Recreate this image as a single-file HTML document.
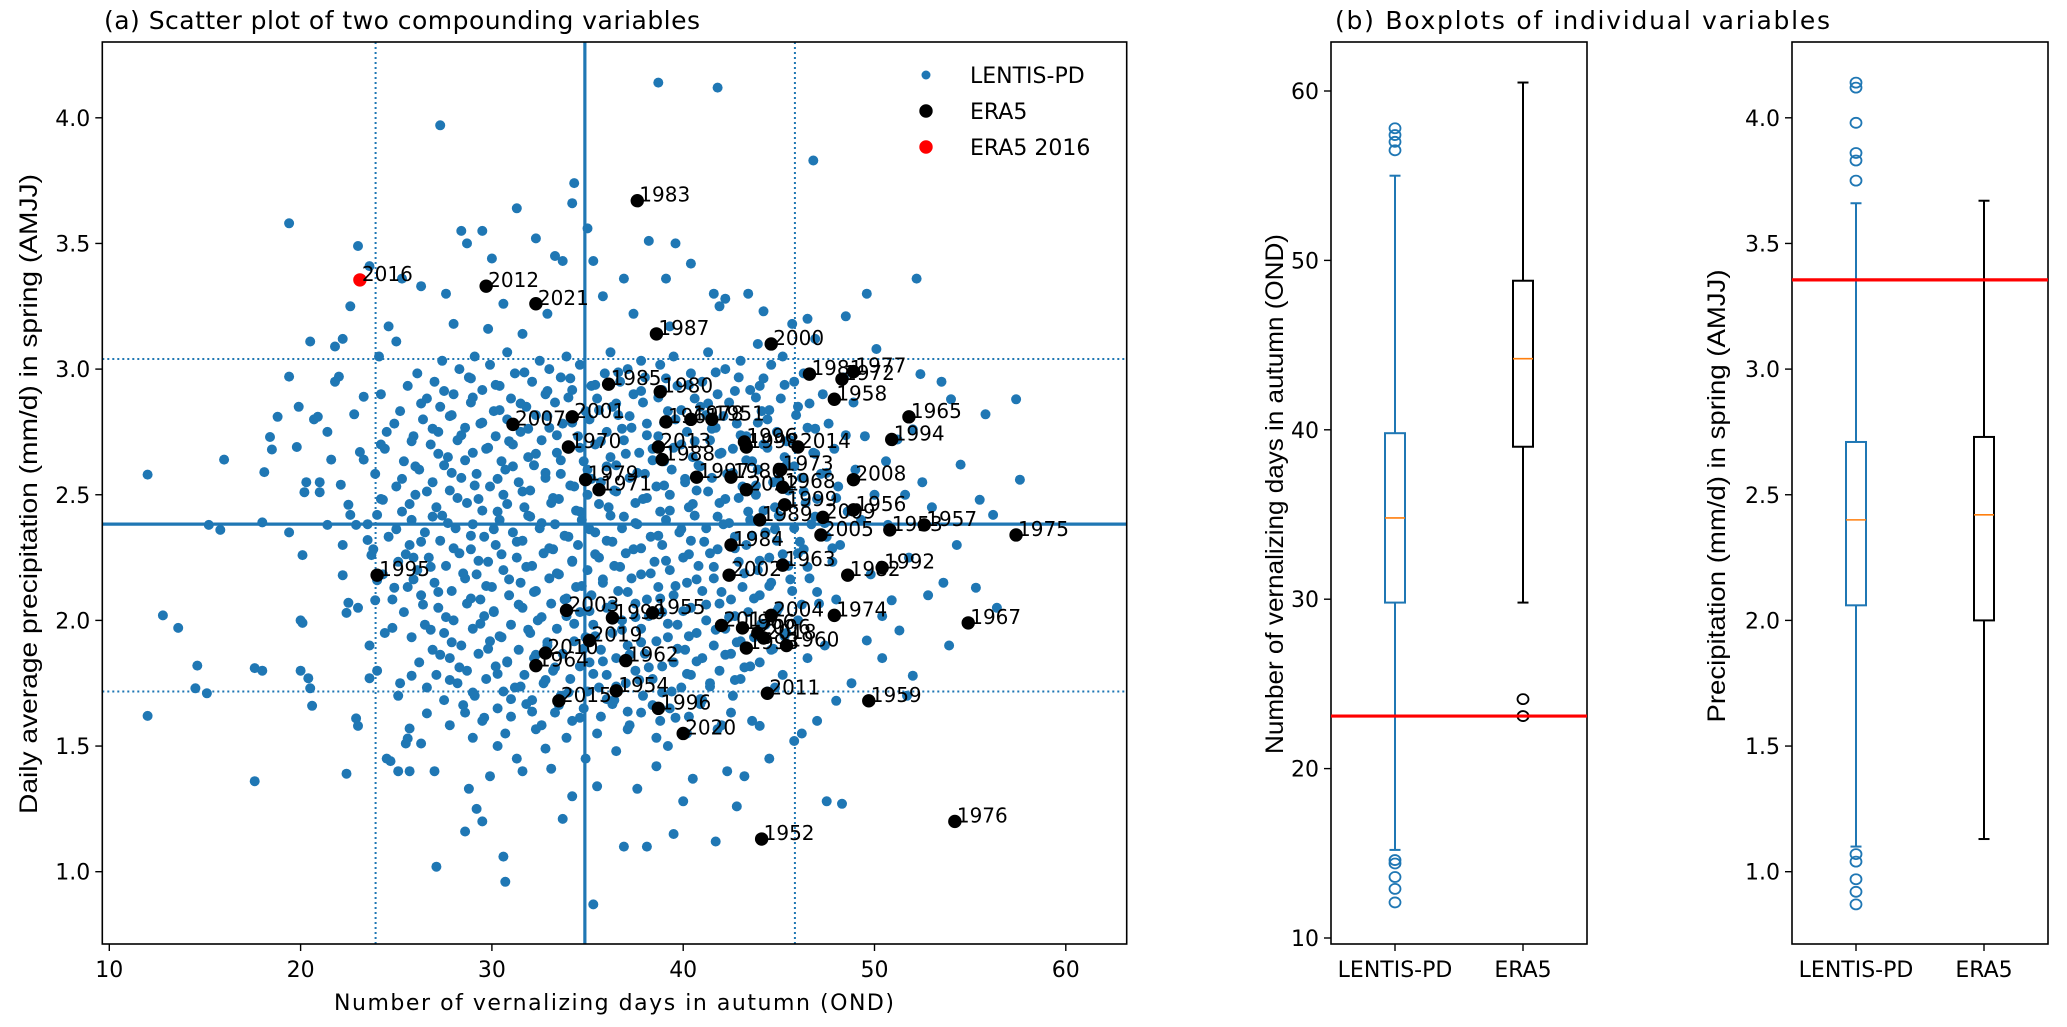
<!DOCTYPE html>
<html><head><meta charset="utf-8"><style>
html,body{margin:0;padding:0;background:#fff;}
svg{display:block;font-family:"DejaVu Sans","Liberation Sans",sans-serif;}
</style></head><body>
<svg id="fig" width="2067" height="1027" viewBox="0 0 2067 1027" xmlns="http://www.w3.org/2000/svg"></svg>
<script>
// ---------- data ----------
const scatterXTicks = [10,20,30,40,50,60];
const scatterYTicks = [1.0,1.5,2.0,2.5,3.0,3.5,4.0];
const daysTicks = [10,20,30,40,50,60];
const precipTicks = [1.0,1.5,2.0,2.5,3.0,3.5,4.0];
const boxCategories = ["LENTIS-PD","ERA5"];
const medianDays = 34.86, medianPrecip = 2.383;
const q10Days = 23.92, q90Days = 45.84, q10Precip = 1.717, q90Precip = 3.04;
const era2016Days = 23.1, era2016Precip = 3.355;
const eraYears = ["1983","2012","2021","1987","2000","1981","1977","1972","1958","1985","1980","1965","2001","2007","1951","1978","1961","1994","2014","1996","1998","1970","2013","1988","1997","1986","1973","2008","1979","1971","2022","1968","1999","1956","1989","2009","2005","1953","1957","1975","1984","1963","2002","1992","1982","1995","2003","1990","1955","2017","2004","1974","1960","1993","2006","2018","1966","2019","2010","1964","1962","1954","2015","2011","1959","1996","2020","1952","1976","1967"];
const eraDays = [37.6,29.7,32.3,38.6,44.6,46.6,48.9,48.3,47.9,36.1,38.8,51.8,34.2,31.1,41.5,40.4,39.1,50.9,46.0,43.2,43.3,34.0,38.7,38.9,40.7,42.5,45.1,48.9,34.9,35.6,43.3,45.2,45.3,48.9,44.0,47.3,47.2,50.8,52.6,57.4,42.5,45.2,42.4,50.4,48.6,24.0,33.9,36.3,38.4,42.0,44.6,47.9,45.4,43.3,43.9,44.2,43.1,35.1,32.8,32.3,37.0,36.5,33.5,44.4,49.7,38.7,40.0,44.1,54.2,54.9];
const eraPrecip = [3.67,3.33,3.26,3.14,3.10,2.98,2.99,2.96,2.88,2.94,2.91,2.81,2.81,2.78,2.80,2.80,2.79,2.72,2.69,2.71,2.69,2.69,2.69,2.64,2.57,2.57,2.60,2.56,2.56,2.52,2.52,2.53,2.46,2.44,2.40,2.41,2.34,2.36,2.38,2.34,2.30,2.22,2.18,2.21,2.18,2.18,2.04,2.01,2.03,1.98,2.02,2.02,1.90,1.89,1.95,1.93,1.97,1.92,1.87,1.82,1.84,1.72,1.68,1.71,1.68,1.65,1.55,1.13,1.20,1.99];
const lentisPoints = [
[12.0,2.58],[12.8,2.02],[13.6,1.97],[12.0,1.62],[14.6,1.82],[14.5,1.73],[15.1,1.71],[15.2,2.38],[15.8,2.36],[16.0,2.64],[17.6,1.36],[17.6,1.81],[18.0,1.80],[18.0,2.39],[18.1,2.59],[18.4,2.73],[18.8,2.81],[18.5,2.68],[19.4,3.58],[19.4,2.97],[19.4,2.35],[19.8,2.69],[19.9,2.85],[20.0,2.00],[20.0,1.80],[20.1,1.99],[20.1,2.26],[20.2,2.51],[20.3,2.55],[20.4,1.77],[20.5,1.73],[20.6,1.66],[20.5,3.11],[20.7,2.80],[20.9,2.81],[21.0,2.55],[21.0,2.51],[21.4,2.38],[21.4,2.75],[21.6,2.64],[21.8,2.95],[22.0,2.97],[21.8,3.09],[22.1,2.54],[22.2,2.30],[22.2,2.18],[22.4,2.03],[22.5,2.07],[22.4,1.39],[22.5,2.46],[22.6,3.25],[22.8,2.82],[22.9,1.61],[23.0,1.58],[23.0,3.49],[23.1,2.67],[22.9,2.38],[23.3,2.89],[23.3,2.64],[23.5,2.32],[23.6,1.90],[23.6,1.77],[23.7,2.26],[23.6,3.41],[23.9,2.08],[24.0,1.80],[24.0,2.42],[24.2,2.90],[24.1,3.05],[24.2,2.70],[24.3,2.48],[24.5,2.75],[24.7,1.44],[24.8,1.97],[24.9,2.13],[25.0,3.11],[25.1,1.70],[25.1,1.40],[25.3,3.36],[25.5,1.51],[25.6,1.53],[25.7,1.57],[25.8,1.78],[25.9,2.25],
[27.3,3.97],[38.7,4.14],[41.8,4.12],[46.8,3.83],[34.3,3.74],[34.2,3.66],[31.3,3.64],[28.4,3.55],[29.5,3.55],[28.7,3.50],[30.0,3.44],[32.3,3.52],[33.3,3.45],[33.7,3.43],[35.3,3.43],[36.9,3.36],[35.0,3.56],[38.2,3.51],[39.6,3.50],[40.4,3.42],[39.1,3.36],[41.6,3.30],[43.4,3.30],[42.2,3.28],[46.5,3.20],[45.7,3.18],[44.2,3.23],[48.5,3.21],[52.2,3.36],[49.6,3.30],[41.9,3.25],[26.3,3.33],[27.6,3.30],[30.6,3.26],[24.6,3.17],[22.2,3.12],[29.8,3.16],[32.9,3.22],[35.8,3.29],[37.4,3.22],[31.6,3.14],[28.0,3.18],[39.3,3.17],[43.9,3.10],[46.9,3.12],[50.1,3.08],
[52.4,2.98],[53.5,2.95],[54.0,2.88],[57.4,2.88],[55.8,2.82],[52.0,2.76],[51.2,2.72],[54.5,2.62],[57.6,2.56],[52.5,2.55],[55.5,2.48],[51.6,2.50],[53.0,2.45],[56.2,2.42],[50.7,2.38],[54.3,2.30],[51.8,2.25],[53.6,2.15],[52.8,2.10],[55.3,2.13],[56.4,2.05],[50.9,2.08],[51.3,1.96],[53.9,1.90],[49.6,1.92],[52.0,1.78],[51.7,1.70],[50.4,1.85],[48.8,1.75],[47.0,1.60],[48.0,1.68],[46.2,1.55],[48.3,1.27],[47.5,1.28],[45.8,1.52],[44.5,1.45],[43.2,1.38],[42.8,1.26],[44.0,1.58],
[36.5,1.48],[38.6,1.42],[40.5,1.37],[41.7,1.12],[39.5,1.15],[38.1,1.10],[36.9,1.10],[35.5,1.34],[34.2,1.30],[33.7,1.21],[32.8,1.49],[31.6,1.40],[30.6,1.06],[30.7,0.96],[35.3,0.87],[29.9,1.38],[29.5,1.20],[28.8,1.33],[28.6,1.16],[29.2,1.25],[27.1,1.02],[27.0,1.40],[26.3,1.51],[25.7,1.40],[24.5,1.45],[30.3,1.50],[31.3,1.45],[33.1,1.41],[34.9,1.45],[37.6,1.33],[40.0,1.28],[42.3,1.40],[39.2,1.50],[26.6,1.63],[25.2,1.75],[24.4,1.95],[24.0,2.16],[23.0,2.05],[22.6,2.42]
];
const coreLevels = [3.05,3.00,2.95,2.90,2.85,2.80,2.75,2.70,2.65,2.60,2.55,2.50,2.45,2.40,2.35,2.30,2.25,2.20,2.15,2.10,2.05,2.00,1.95,1.90,1.85,1.80,1.75,1.70,1.65,1.60,1.55];
const coreDays = [
[27.4,29.1,30.8,32.5,33.9,36.2,37.8,39.5,41.3,43.0,45.2],
[26.1,28.3,29.9,31.2,33.0,34.6,35.9,37.1,38.8,40.4,42.2,44.6,46.3],
[25.6,27.0,28.8,30.4,32.1,33.6,35.2,36.7,38.0,39.7,41.0,42.9,44.0,45.8,48.4],
[26.6,28.0,29.5,31.0,32.8,34.2,35.5,37.4,38.9,40.6,41.8,43.5,45.1,47.3],
[25.2,27.3,28.9,30.1,31.8,33.3,34.9,36.3,37.9,39.2,40.9,42.4,44.1,46.0,48.9],
[24.9,26.4,27.9,29.4,30.8,32.3,33.7,35.1,36.6,38.1,39.6,41.2,42.8,44.4,45.9,47.6],
[25.9,27.2,28.6,30.2,31.5,33.0,34.5,36.0,37.3,38.7,40.2,41.7,43.3,44.9,46.5,49.5],
[24.4,26.8,28.2,29.7,31.1,32.6,34.0,35.4,36.9,38.4,39.9,41.4,42.6,44.2,45.6,47.9],
[25.4,27.7,29.0,30.5,31.9,33.4,34.8,36.2,37.7,39.0,40.5,42.0,43.6,45.3,46.8,50.6],
[23.9,26.2,27.5,29.2,30.7,32.2,33.6,35.0,36.5,38.0,39.4,40.8,42.3,43.9,45.4,47.2,49.0],
[25.0,26.9,28.4,29.9,31.4,32.8,34.3,35.7,37.2,38.6,40.1,41.5,43.1,44.7,46.2,48.1],
[24.2,26.0,27.8,29.3,30.6,32.0,33.5,35.0,36.4,37.9,39.3,40.7,42.2,43.8,45.5,47.0,50.0],
[25.3,27.1,28.7,30.3,31.7,33.1,34.6,36.1,37.5,38.8,40.3,41.9,43.4,44.8,46.4,48.6],
[23.5,25.8,27.4,29.0,30.4,31.9,33.3,34.7,36.2,37.6,39.1,40.6,42.1,43.5,45.0,46.7,49.3],
[24.6,26.5,28.1,29.6,31.1,32.5,34.0,35.4,36.8,38.3,39.8,41.2,42.7,44.3,45.8,47.5],
[23.8,25.7,27.3,28.9,30.2,31.6,33.2,34.5,36.0,37.4,38.9,40.4,41.8,43.3,44.9,46.3,48.2],
[25.1,26.7,28.3,29.8,31.3,32.7,34.2,35.6,37.0,38.5,40.0,41.4,42.9,44.5,46.0,47.8],
[24.3,26.1,27.6,29.2,30.6,32.1,33.5,35.0,36.4,37.8,39.3,40.8,42.4,43.9,45.5,49.8],
[25.6,27.0,28.6,30.0,31.5,33.0,34.4,35.8,37.3,38.7,40.2,41.6,43.1,44.6,46.6],
[24.8,26.3,27.9,29.4,30.9,32.3,33.8,35.2,36.6,38.1,39.5,41.0,42.5,44.0,45.7,48.0],
[25.4,27.2,28.7,30.1,31.6,33.1,34.6,36.0,37.5,38.9,40.4,41.9,43.4,45.0,47.1],
[26.5,28.0,29.6,31.0,32.4,33.9,35.3,36.8,38.2,39.7,41.2,42.7,44.3,46.0,50.4],
[25.8,27.5,29.0,30.5,32.0,33.4,34.9,36.3,37.8,39.2,40.7,42.2,43.7,45.4],
[26.9,28.4,29.9,31.4,32.9,34.3,35.7,37.1,38.6,40.1,41.6,43.0,44.6,47.4],
[26.2,27.8,29.3,30.8,32.2,33.7,35.1,36.5,38.0,39.5,41.0,42.5,44.0,46.5],
[27.1,28.7,30.2,31.7,33.2,34.6,36.0,37.5,38.9,40.4,41.9,43.5,45.2],
[26.6,28.2,29.7,31.2,32.7,34.1,35.6,37.0,38.4,39.9,41.4,43.0,44.8],
[27.5,29.1,30.6,32.1,33.6,35.0,36.4,37.9,39.4,41.0,42.6,44.4],
[28.6,30.3,31.8,33.3,34.8,36.3,37.8,39.3,40.9,42.5],
[27.8,29.5,31.0,32.6,34.2,35.7,37.2,38.8,40.3,42.0,43.6],
[29.0,30.7,32.3,33.9,35.5,37.1,38.6,40.2,41.8]
];
const coreLevels2 = [2.975,2.925,2.875,2.825,2.775,2.725,2.675,2.625,2.575,2.525,2.475,2.425,2.375,2.325,2.275,2.225,2.175,2.125,2.075,2.025,1.975,1.925,1.875,1.825,1.775,1.725,1.675,1.625];
const coreDays2 = [
[28.9,31.7,34.1,36.6,39.1,41.7,44.2],
[27.5,30.2,32.9,35.4,37.8,40.3,42.7,45.3],
[26.3,29.0,31.5,34.0,36.5,38.7,41.3,43.8,46.6],
[27.8,30.4,32.9,35.6,37.2,39.9,42.1,44.5],
[26.9,29.5,31.9,34.2,36.8,39.0,41.5,43.9,46.9],
[25.8,28.4,30.9,33.4,35.7,38.1,40.6,43.0,45.4,48.5],
[27.2,29.8,32.3,34.6,37.0,39.5,41.9,44.4,46.9],
[26.0,28.6,31.1,33.6,36.0,38.4,40.9,43.3,45.8],
[25.3,27.9,30.3,32.8,35.2,37.6,40.1,42.6,45.0,47.5],
[26.6,29.1,31.6,34.1,36.5,39.0,41.3,43.8,46.3],
[25.7,28.2,30.8,33.2,35.6,38.1,40.5,42.9,45.4,48.0],
[26.9,29.5,32.0,34.4,36.9,39.3,41.8,44.2,46.9],
[25.0,27.7,30.1,32.6,35.1,37.5,39.9,42.4,44.8,47.4],
[26.3,28.9,31.3,33.8,36.3,38.7,41.1,43.6,46.1],
[25.5,28.0,30.5,33.0,35.4,37.8,40.3,42.7,45.2,47.8],
[26.8,29.3,31.8,34.2,36.7,39.1,41.6,44.0,46.5],
[25.9,28.5,30.9,33.4,35.8,38.3,40.7,43.2,45.6],
[27.2,29.7,32.2,34.7,37.1,39.6,42.0,44.5,47.0],
[26.4,28.9,31.4,33.9,36.3,38.8,41.2,43.7,46.2],
[27.6,30.1,32.6,35.1,37.5,40.0,42.4,44.9],
[26.8,29.4,31.9,34.3,36.8,39.2,41.7,44.1],
[27.9,30.4,32.9,35.4,37.8,40.3,42.8,45.3],
[27.3,29.8,32.3,34.8,37.2,39.7,42.2,44.7],
[28.3,30.8,33.3,35.8,38.2,40.7,43.2],
[27.8,30.3,32.8,35.3,37.7,40.2,42.7],
[29.0,31.5,34.0,36.5,38.9,41.4],
[28.5,31.0,33.5,36.0,38.4,40.9],
[29.6,32.1,34.6,37.1,39.6]
];
const daysLentisBox = [15.2,29.8,34.8,39.8,55.0];
const daysEraBox = [29.8,39.0,44.2,48.8,60.5];
const daysLentisOutliers = [57.8,57.4,57.0,56.5,14.6,14.4,13.6,12.9,12.1];
const daysEraOutliers = [24.1,23.1];
const precipLentisBox = [1.10,2.06,2.40,2.71,3.66];
const precipEraBox = [1.13,2.00,2.42,2.73,3.67];
const precipLentisOutliers = [4.14,4.12,3.98,3.86,3.83,3.75,1.07,1.04,0.97,0.92,0.87];
const precipEraOutliers = [];

// ---------- helpers ----------
const NS = "http://www.w3.org/2000/svg";
const svg = document.getElementById("fig");
function mk(tag, attrs, parent){const e=document.createElementNS(NS,tag);for(const k in attrs)e.setAttribute(k,attrs[k]);(parent||svg).appendChild(e);return e;}
const BLUE="#1f77b4";
const SX0=102.3, SX1=1126.7, SY0=42, SY1=944;
const sx = v => 109.3 + (v-10)*19.13;
const sy = v => 117.8 + (4-v)*251.3;
const MX0=1331, MX1=1587;
const my = v => 938 - (v-10)*16.94;
const RX0=1792, RX1=2048;
const catX = (x0,i) => x0 + 64 + i*128;

// ---------- scatter ----------
const gA = mk("g",{});


const clip = mk("clipPath",{id:"clipA"}); mk("rect",{x:SX0,y:SY0,width:SX1-SX0,height:SY1-SY0},clip);
const gPts = mk("g",{"clip-path":"url(#clipA)"},gA);


function bluePt(d,p){const c=mk("circle",{cx:sx(d).toFixed(1),cy:sy(p).toFixed(1),r:5,fill:BLUE},gPts);

}
lentisPoints.forEach(pt=>bluePt(pt[0],pt[1]));
coreLevels.forEach((lv,i)=>coreDays[i].forEach((d,j)=>bluePt(d, lv + ((j%3)-1)*0.017)));
coreLevels2.forEach((lv,i)=>coreDays2[i].forEach((d,j)=>bluePt(d, lv + ((j%2)*2-1)*0.012)));
const gRef = mk("g",{"clip-path":"url(#clipA)"},gA);
function hline(v,w,dash,name){const l=mk("line",{x1:SX0,x2:SX1,y1:sy(v),y2:sy(v),stroke:BLUE,"stroke-width":w},gRef);if(dash)l.setAttribute("stroke-dasharray",dash);

}
function vline(v,w,dash,name){const l=mk("line",{y1:SY0,y2:SY1,x1:sx(v),x2:sx(v),stroke:BLUE,"stroke-width":w},gRef);if(dash)l.setAttribute("stroke-dasharray",dash);

}
hline(medianPrecip,3.2,null,'median-precip-line');
vline(medianDays,3.2,null,'median-days-line');
hline(q10Precip,2,"2,3",'q10-precip-line');
hline(q90Precip,2,"2,3",'q90-precip-line');
vline(q10Days,2,"2,3",'q10-days-line');
vline(q90Days,2,"2,3",'q90-days-line');
const gEra = mk("g",{"clip-path":"url(#clipA)"},gA);
eraYears.forEach((yr,i)=>{
  const c=mk("circle",{cx:sx(eraDays[i]),cy:sy(eraPrecip[i]),r:6.7,fill:"#000"},gEra);
  
  
});
eraYears.forEach((yr,i)=>{
  const t=mk("text",{x:sx(eraDays[i])+2,y:sy(eraPrecip[i])+1,"font-size":20,fill:"#000"},gEra);
  t.textContent=yr;
  
  
});
const red=mk("circle",{cx:sx(era2016Days),cy:sy(era2016Precip),r:6.7,fill:"#ff0000"},gEra);


const redT=mk("text",{x:sx(era2016Days)+2,y:sy(era2016Precip)+1,"font-size":20},gEra);redT.textContent="2016";



function frame(x0,x1,name){const r=mk("rect",{x:x0,y:SY0,width:x1-x0,height:SY1-SY0,fill:"none",stroke:"#000","stroke-width":1.6});

}
frame(SX0,SX1,'scatter-frame');
function xtick(x,label,name){mk("line",{x1:x,x2:x,y1:SY1,y2:SY1+7,stroke:"#000","stroke-width":1.4});
const t=mk("text",{x:x,y:SY1+33,"font-size":22,"text-anchor":"middle"});t.textContent=label;

}
function ytick(x0,y,label,name){mk("line",{x1:x0-7,x2:x0,y1:y,y2:y,stroke:"#000","stroke-width":1.4});
const t=mk("text",{x:x0-12,y:y+8,"font-size":22,"text-anchor":"end"});t.textContent=label;

}
scatterXTicks.forEach(v=>xtick(sx(v),String(v),'scatter-x-tick'));
scatterYTicks.forEach(v=>ytick(SX0,sy(v),v.toFixed(1),'scatter-y-tick'));
const legendLabels=["LENTIS-PD","ERA5","ERA5 2016"];
const legendColors=[BLUE,"#000","#ff0000"];
const legendR=[4.5,6.7,6.7];
const legendY=[75,111,147];
legendLabels.forEach((lab,i)=>{
  const g=mk("g",{});
  
  
  mk("circle",{cx:926,cy:legendY[i],r:legendR[i],fill:legendColors[i]},g);
  const t=mk("text",{x:970,y:legendY[i]+8,"font-size":22},g);t.textContent=lab;
});

// ---------- boxplots ----------
function boxplot(x0,yf,stats,outs,i,color,name){
  const g=mk("g",{});
  
  
  const cx=catX(x0,i), hw=10, cw=5.5;
  mk("line",{x1:cx,x2:cx,y1:yf(stats[0]),y2:yf(stats[1]),stroke:color,"stroke-width":2},g);
  mk("line",{x1:cx,x2:cx,y1:yf(stats[3]),y2:yf(stats[4]),stroke:color,"stroke-width":2},g);
  mk("line",{x1:cx-cw,x2:cx+cw,y1:yf(stats[0]),y2:yf(stats[0]),stroke:color,"stroke-width":2},g);
  mk("line",{x1:cx-cw,x2:cx+cw,y1:yf(stats[4]),y2:yf(stats[4]),stroke:color,"stroke-width":2},g);
  mk("rect",{x:cx-hw,y:yf(stats[3]),width:2*hw,height:yf(stats[1])-yf(stats[3]),fill:"none",stroke:color,"stroke-width":2},g);
  mk("line",{x1:cx-hw,x2:cx+hw,y1:yf(stats[2]),y2:yf(stats[2]),stroke:"#ff7f0e","stroke-width":1.6},g);
  outs.forEach(o=>mk("ellipse",{cx:cx,cy:yf(o),rx:5.5,ry:5,fill:"none",stroke:color,"stroke-width":1.8},g));
}
frame(MX0,MX1,'days-box-frame');
boxplot(MX0,my,daysLentisBox,daysLentisOutliers,0,BLUE,'days-box-lentis');
boxplot(MX0,my,daysEraBox,daysEraOutliers,1,"#000",'days-box-era5');
const rl1=mk("line",{x1:MX0,x2:MX1,y1:my(era2016Days),y2:my(era2016Days),stroke:"#ff0000","stroke-width":3.2});


daysTicks.forEach(v=>ytick(MX0,my(v),String(v),'days-y-tick'));
boxCategories.forEach((c,i)=>xtick(catX(MX0,i),c,'days-x-category'));
frame(RX0,RX1,'precip-box-frame');
boxplot(RX0,sy,precipLentisBox,precipLentisOutliers,0,BLUE,'precip-box-lentis');
boxplot(RX0,sy,precipEraBox,precipEraOutliers,1,"#000",'precip-box-era5');
const rl2=mk("line",{x1:RX0,x2:RX1,y1:sy(era2016Precip),y2:sy(era2016Precip),stroke:"#ff0000","stroke-width":3.2});


precipTicks.forEach(v=>ytick(RX0,sy(v),v.toFixed(1),'precip-y-tick'));
boxCategories.forEach((c,i)=>xtick(catX(RX0,i),c,'precip-x-category'));
</script>
<div style="position:absolute;left:0;top:0;width:2067px;height:1027px;pointer-events:none">
<svg width="2067" height="1027" style="font-family:'DejaVu Sans','Liberation Sans',sans-serif">
<text x="104" y="29" font-size="25" textLength="596">(a) Scatter plot of two compounding variables</text>
<text x="1335" y="29" font-size="25" textLength="495">(b) Boxplots of individual variables</text>
<text x="614" y="1010" font-size="22" text-anchor="middle" textLength="560">Number of vernalizing days in autumn (OND)</text>
<text transform="translate(37,494) rotate(-90)" font-size="25" text-anchor="middle" textLength="640" lengthAdjust="spacingAndGlyphs" style="font-family:'Liberation Sans Narrow','Liberation Sans',sans-serif">Daily average precipitation (mm/d) in spring (AMJJ)</text>
<text transform="translate(1283,494) rotate(-90)" font-size="25" text-anchor="middle" textLength="520" lengthAdjust="spacingAndGlyphs" style="font-family:'Liberation Sans Narrow','Liberation Sans',sans-serif">Number of vernalizing days in autumn (OND)</text>
<text transform="translate(1725,496) rotate(-90)" font-size="25" text-anchor="middle" textLength="453" lengthAdjust="spacingAndGlyphs" style="font-family:'Liberation Sans Narrow','Liberation Sans',sans-serif">Precipitation (mm/d) in spring (AMJJ)</text>
</svg></div>
</body></html>
